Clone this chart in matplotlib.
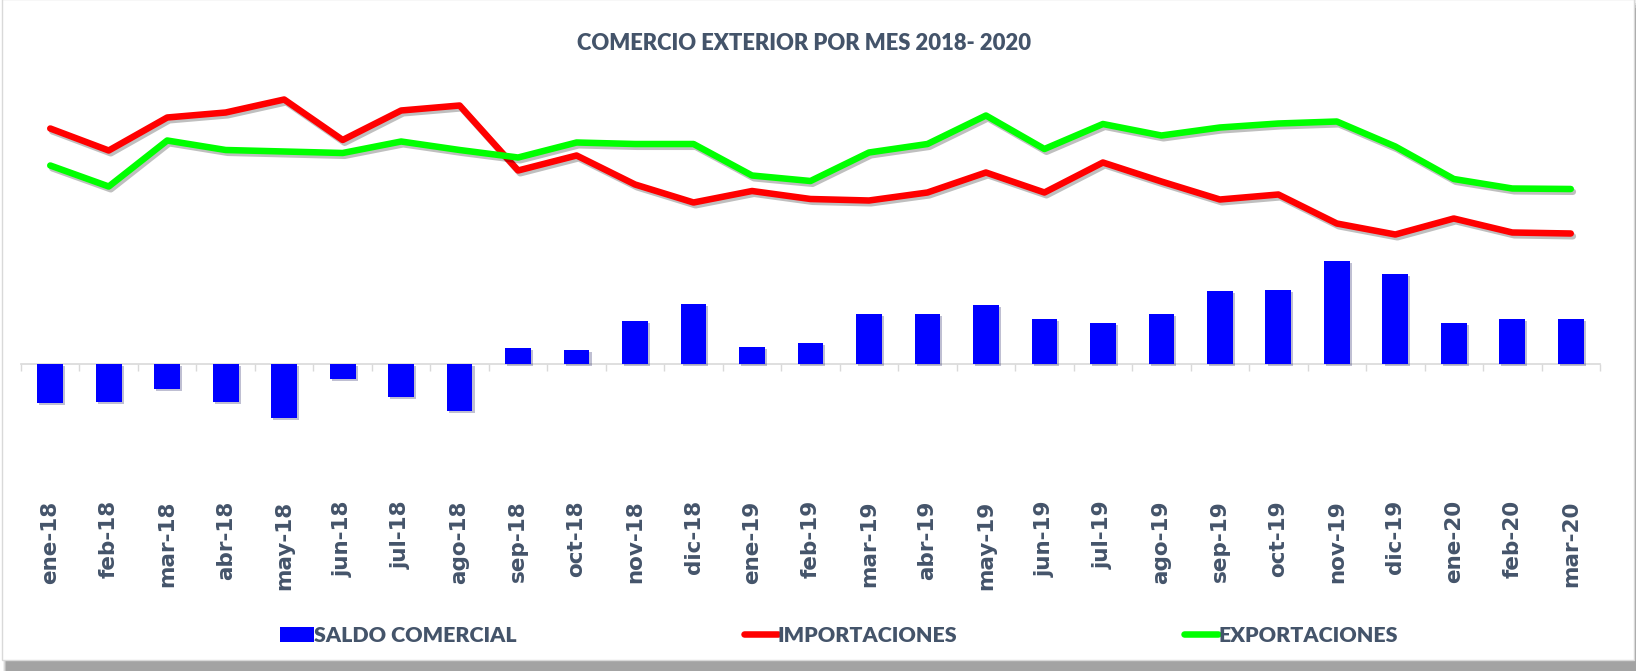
import matplotlib
matplotlib.use("Agg")
import matplotlib.pyplot as plt
import numpy as np
from matplotlib.patches import Rectangle, Patch
from matplotlib.lines import Line2D
import matplotlib.patheffects as pe

meses = ["ene-18", "feb-18", "mar-18", "abr-18", "may-18", "jun-18", "jul-18", "ago-18",
         "sep-18", "oct-18", "nov-18", "dic-18", "ene-19", "feb-19", "mar-19", "abr-19",
         "may-19", "jun-19", "jul-19", "ago-19", "sep-19", "oct-19", "nov-19", "dic-19",
         "ene-20", "feb-20", "mar-20"]
saldo = [-390, -375, -245, -375, -535, -145, -325, -465, 165, 145, 430, 600, 175, 210,
         500, 500, 590, 455, 415, 500, 730, 740, 1030, 900, 415, 455, 455]
importaciones = [2355, 2135, 2465, 2515, 2645, 2240, 2535, 2585, 1935, 2085, 1795, 1615,
                 1730, 1650, 1635, 1715, 1915, 1715, 2015, 1825, 1645, 1695, 1405, 1295,
                 1455, 1315, 1305]
exportaciones = [1985, 1775, 2235, 2140, 2125, 2110, 2225, 2140, 2065, 2215, 2200, 2200,
                 1885, 1830, 2115, 2200, 2485, 2150, 2400, 2285, 2365, 2405, 2425, 2175,
                 1850, 1755, 1750]

W, H = 1639, 671
TXT = "#44546A"
fig = plt.figure(figsize=(W / 100, H / 100), dpi=100)

# chart area frame with shadow
for i, a in enumerate([0.12, 0.2, 0.3, 0.42]):
    fig.patches.append(Rectangle(((3 + i) / W, 0), (1636 - 3 - i) / W, (671 - i * 2.5) / H,
                                 transform=fig.transFigure, facecolor="#808080", alpha=a,
                                 edgecolor="none", zorder=-3))
fig.patches.append(Rectangle((2 / W, (671 - 660) / H), 1632 / W, 661 / H,
                             transform=fig.transFigure, facecolor="white",
                             edgecolor="#D9D9D9", lw=1, zorder=-2))

ax = fig.add_axes([21 / W, 1 - 494 / H, 1579 / W, 424 / H])
ax.patch.set_visible(False)
x = np.arange(len(meses))

ax.bar(x, saldo, width=0.44, color="#0000FF", zorder=2,
       path_effects=[pe.SimplePatchShadow(offset=(1.5, -1.5), alpha=0.25), pe.Normal()])
shadow = [pe.SimpleLineShadow(offset=(1.5, -2), alpha=0.25), pe.Normal()]
ax.plot(x, importaciones, color="#FF0000", lw=4.7, solid_capstyle="round",
        solid_joinstyle="round", zorder=3, path_effects=shadow)
ax.plot(x, exportaciones, color="#00FF00", lw=4.7, solid_capstyle="round",
        solid_joinstyle="round", zorder=3, path_effects=shadow)

ax.set_xlim(-0.5, len(meses) - 0.5)
ax.set_ylim(-1300, 2940)
for s in ax.spines.values():
    s.set_visible(False)
ax.set_yticks([])
ax.set_xticks(x)
ax.set_xticklabels(meses, rotation=90, fontsize=15.5, fontweight="bold", color=TXT,
                   family="DejaVu Sans")
ax.tick_params(axis="x", length=0, pad=4.5)

# category axis line at zero
try:
    sec = ax.secondary_xaxis(0, transform=ax.transData)
    sec.set_xticks(np.arange(len(meses) + 1) - 0.5)
    sec.tick_params(length=5, color="#D9D9D9", labelbottom=False, direction="out", width=1)
    sec.spines["bottom"].set_color("#D9D9D9")
    sec.spines["bottom"].set_linewidth(1.2)
except Exception:
    ax.axhline(0, color="#D9D9D9", lw=1.2, zorder=1)

fig.text(804.5 / W, 1 - 44 / H, "COMERCIO EXTERIOR POR MES 2018- 2020", ha="center",
         va="center", fontsize=15.8, fontweight="heavy", family="Lato", color=TXT)

fs = 15.4
pxpt = 100 / 72
handles = [Patch(facecolor="#0000FF", edgecolor="none"),
           Line2D([], [], color="#FF0000", lw=4.7, solid_capstyle="round"),
           Line2D([], [], color="#00FF00", lw=4.7, solid_capstyle="round")]
labels = ["SALDO COMERCIAL", "IMPORTACIONES", "EXPORTACIONES"]
leg = fig.legend(handles, labels, loc="center left", bbox_to_anchor=(280 / W, 1 - 635 / H),
                 ncols=3, frameon=False, handlelength=34 / (fs * pxpt),
                 handleheight=15 / (fs * pxpt), handletextpad=0,
                 columnspacing=227 / (fs * pxpt), borderpad=0, borderaxespad=0,
                 prop={"family": "Lato", "weight": "heavy", "size": fs})
for t in leg.get_texts():
    t.set_color(TXT)

fig.savefig("out.png", dpi=100)
